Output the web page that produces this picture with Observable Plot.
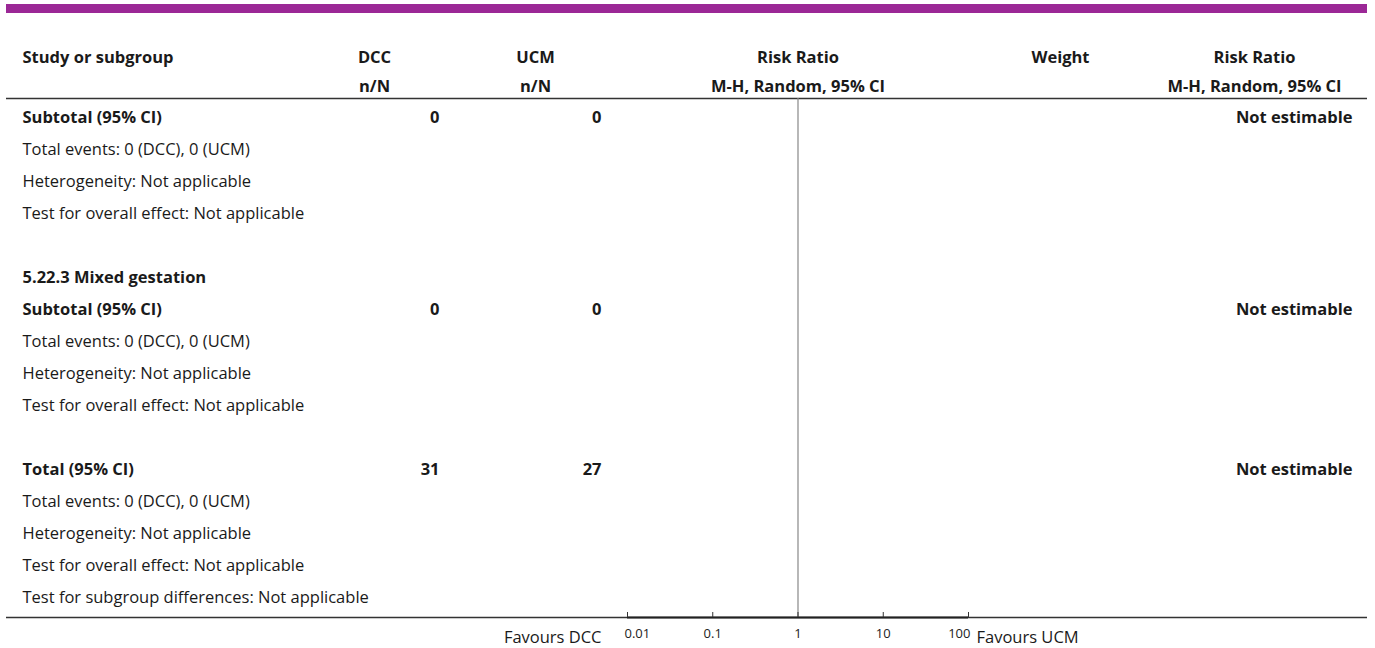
<!DOCTYPE html>
<html><head><meta charset="utf-8">
<script src="https://cdn.jsdelivr.net/npm/d3@7"></script>
<script src="https://cdn.jsdelivr.net/npm/@observablehq/plot@0.6"></script>
<style>
body{margin:0;background:#fff;font-family:"Open Sans",sans-serif}
#bar{margin:4px 0 4px 6px;width:1361px;height:9px;background:#9b2896}
</style></head><body><div id="bar"></div><div id="chart"></div>
<script>
// ---- data ----
const headerLine1 = ["Study or subgroup", "DCC", "UCM", "Risk Ratio", "Weight", "Risk Ratio"];
const headerLine2 = ["", "n/N", "n/N", "M-H, Random, 95% CI", "", "M-H, Random, 95% CI"];
const rowLabels = [
  "Subtotal (95% CI)", "Total events: 0 (DCC), 0 (UCM)", "Heterogeneity: Not applicable", "Test for overall effect: Not applicable", "",
  "5.22.3 Mixed gestation", "Subtotal (95% CI)", "Total events: 0 (DCC), 0 (UCM)", "Heterogeneity: Not applicable", "Test for overall effect: Not applicable", "",
  "Total (95% CI)", "Total events: 0 (DCC), 0 (UCM)", "Heterogeneity: Not applicable", "Test for overall effect: Not applicable", "Test for subgroup differences: Not applicable"
];
const rowKind = ["summary","info","info","info","blank","heading","summary","info","info","info","blank","summary","info","info","info","info"];
const dccTotal = ["0","","","","","","0","","","","","31","","","",""];
const ucmTotal = ["0","","","","","","0","","","","","27","","","",""];
const effectText = ["Not estimable","","","","","","Not estimable","","","","","Not estimable","","","",""];
const axisTicks = [0.01, 0.1, 1, 10, 100];
const favoursLabels = ["Favours DCC", "Favours UCM"];

// ---- layout ----
const W = 1375, H = 631, mL = 6, mR = 8, mT = 81, mB = 31;
const col = {study: 22, dccHead: 374, dccVal: 439, ucmHead: 535, ucmVal: 601, weight: 1060, rrHead: 1254, rrVal: 1352};
const dx = px => px - mL;
const rowStep = 32, firstRowY = 100;
const rowAt = py => (py - firstRowY) / rowStep;   // pixel row -> row index

const rows = rowLabels.map((label, i) => ({i, label, kind: rowKind[i], dcc: dccTotal[i], ucm: ucmTotal[i], eff: effectText[i]}));
const bold = rows.filter(d => d.kind === "summary" || d.kind === "heading");
const normal = rows.filter(d => d.kind === "info");
const headY1 = rowAt(40), headY2 = rowAt(69), headRule = rowAt(81), bottomRule = rowAt(H - mB);
const hdr = (k, line) => [{t: (line === 1 ? headerLine1 : headerLine2)[k]}];

const FS = 16.5;
const textBase = {fontSize: FS, fill: "#1a1a1a", lineAnchor: "middle"};
const tickLabels = axisTicks.map((v, k) => ({v, pos: k === 0 ? "start" : k === axisTicks.length - 1 ? "end" : "middle"}));

const chart = Plot.plot({
  width: W, height: H, marginLeft: mL, marginRight: mR, marginTop: mT, marginBottom: mB,
  style: {fontFamily: "'Open Sans', sans-serif", background: "#fff"},
  x: {type: "log", domain: [0.01, 100], range: [627, 968], axis: null},
  y: {type: "linear", domain: [0, 15], range: [firstRowY, firstRowY + 15 * rowStep], axis: null},
  marks: [
    Plot.ruleY([headRule], {stroke: "#333", strokeWidth: 1.5}),
    Plot.ruleY([bottomRule], {stroke: "#333", strokeWidth: 1.5}),
    Plot.ruleX([1], {y1: headRule, y2: bottomRule, stroke: "#888", strokeWidth: 1.2}),
    Plot.ruleY([bottomRule], {x1: 0.01, x2: 100, stroke: "#222", strokeWidth: 2}),
    Plot.ruleX(axisTicks, {x: d => d, insetTop: H - mT - mB - 5, stroke: "#333", strokeWidth: 1}),
    ...["start", "middle", "end"].map(a => Plot.text(tickLabels.filter(d => d.pos === a), {
      x: "v", text: d => String(d.v), frameAnchor: "bottom", dy: 16, lineAnchor: "middle", dx: a === "start" ? -3 : a === "end" ? 2 : 0,
      textAnchor: a, fontSize: 13, fill: "#222"
    })),
    Plot.text([favoursLabels[0]], {x: 0.01, frameAnchor: "bottom", dy: 20, dx: -26, textAnchor: "end", ...textBase}),
    Plot.text([favoursLabels[1]], {x: 100, frameAnchor: "bottom", dy: 20, dx: 8, textAnchor: "start", ...textBase}),
    // headers
    Plot.text(hdr(0, 1), {y: () => headY1, text: "t", frameAnchor: "left", dx: dx(col.study), textAnchor: "start", fontWeight: "bold", ...textBase}),
    Plot.text(hdr(1, 1), {y: () => headY1, text: "t", frameAnchor: "left", dx: dx(col.dccHead), textAnchor: "middle", fontWeight: "bold", ...textBase}),
    Plot.text(hdr(1, 2), {y: () => headY2, text: "t", frameAnchor: "left", dx: dx(col.dccHead), textAnchor: "middle", fontWeight: "bold", ...textBase}),
    Plot.text(hdr(2, 1), {y: () => headY1, text: "t", frameAnchor: "left", dx: dx(col.ucmHead), textAnchor: "middle", fontWeight: "bold", ...textBase}),
    Plot.text(hdr(2, 2), {y: () => headY2, text: "t", frameAnchor: "left", dx: dx(col.ucmHead), textAnchor: "middle", fontWeight: "bold", ...textBase}),
    Plot.text(hdr(3, 1), {x: () => 1, y: () => headY1, text: "t", textAnchor: "middle", fontWeight: "bold", ...textBase}),
    Plot.text(hdr(3, 2), {x: () => 1, y: () => headY2, text: "t", textAnchor: "middle", fontWeight: "bold", ...textBase}),
    Plot.text(hdr(4, 1), {y: () => headY1, text: "t", frameAnchor: "left", dx: dx(col.weight), textAnchor: "middle", fontWeight: "bold", ...textBase}),
    Plot.text(hdr(5, 1), {y: () => headY1, text: "t", frameAnchor: "left", dx: dx(col.rrHead), textAnchor: "middle", fontWeight: "bold", ...textBase}),
    Plot.text(hdr(5, 2), {y: () => headY2, text: "t", frameAnchor: "left", dx: dx(col.rrHead), textAnchor: "middle", fontWeight: "bold", ...textBase}),
    // body
    Plot.text(bold, {y: "i", text: "label", frameAnchor: "left", dx: dx(col.study), textAnchor: "start", fontWeight: "bold", ...textBase}),
    Plot.text(normal, {y: "i", text: "label", frameAnchor: "left", dx: dx(col.study), textAnchor: "start", ...textBase}),
    Plot.text(rows.filter(d => d.dcc), {y: "i", text: "dcc", frameAnchor: "left", dx: dx(col.dccVal), textAnchor: "end", fontWeight: "bold", ...textBase}),
    Plot.text(rows.filter(d => d.ucm), {y: "i", text: "ucm", frameAnchor: "left", dx: dx(col.ucmVal), textAnchor: "end", fontWeight: "bold", ...textBase}),
    Plot.text(rows.filter(d => d.eff), {y: "i", text: "eff", frameAnchor: "left", dx: dx(col.rrVal), textAnchor: "end", fontWeight: "bold", ...textBase})
  ]
});
document.getElementById("chart").appendChild(chart);
</script></body></html>
